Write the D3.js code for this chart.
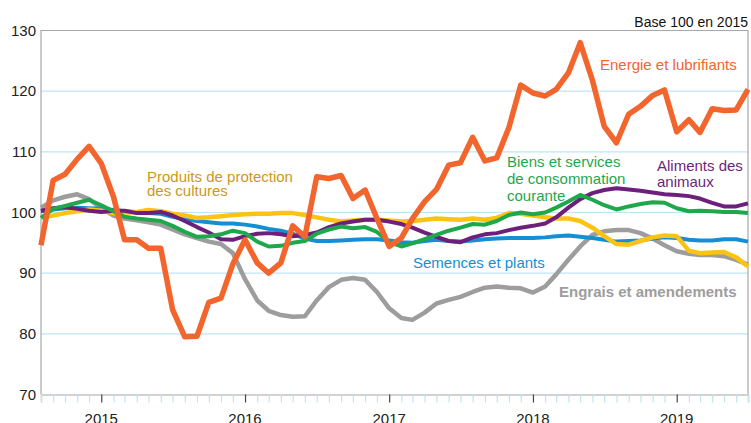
<!DOCTYPE html>
<html>
<head>
<meta charset="utf-8">
<script src="https://cdn.jsdelivr.net/npm/d3@7"></script>
<style>
  body { margin: 0; background: #fff; }
  svg { display: block; font-family: "Liberation Sans", Arial, sans-serif; }
</style>
</head>
<body>
<svg width="751" height="423"></svg>
<script>
// monthly indices, Aug 2014 -> Jul 2019 (60 months)
const firstMonth = new Date(2014, 7, 1);
const monthCount = 60;
const yearTicks = [2015, 2016, 2017, 2018, 2019];
const yTicks = [70, 80, 90, 100, 110, 120, 130];

const energie = [94.6, 105.3, 106.3, 108.8, 110.9, 108.1, 102.6, 95.5, 95.5, 94.1, 94.1, 84, 79.5, 79.6, 85.2, 85.9, 91.5, 95.5, 91.7, 90,
  91.7, 97.8, 96, 105.9, 105.6, 106.1, 102.3, 103.7, 99, 94.4, 95.8, 99, 101.8, 103.8, 107.8, 108.2, 112.4, 108.5, 109, 114,
  121, 119.7, 119.2, 120.3, 123, 128, 121.8, 114.2, 111.5, 116.2, 117.5, 119.3, 120.2, 113.3, 115.3, 113.2, 117.1, 116.8, 116.9, 120.3];
const engrais = [100.8, 102, 102.6, 103, 102.2, 100.7, 99.5, 99, 98.7, 98.4, 98, 97.2, 96.4, 95.8, 95.2, 94.8, 93.3, 89, 85.5, 83.8,
  83.1, 82.8, 82.9, 85.5, 87.7, 88.9, 89.2, 88.9, 86.9, 84.2, 82.6, 82.3, 83.5, 85, 85.6, 86.1, 86.9, 87.6, 87.8, 87.6,
  87.5, 86.8, 87.8, 89.8, 92.2, 94.4, 96.3, 96.9, 97.1, 97.1, 96.6, 95.7, 94.6, 93.6, 93.2, 93, 93, 92.8, 92.2, 91.4];
const semences = [100.2, 100.5, 100.7, 100.8, 100.7, 100.6, 100.4, 100.2, 100.1, 99.9, 99.8, 99.3, 98.9, 98.6, 98.4, 98.2, 98.2, 98, 97.7, 97.3,
  97, 96.5, 95.7, 95.3, 95.3, 95.4, 95.5, 95.6, 95.6, 95.4, 95.1, 95, 95.3, 95.5, 95.3, 95.2, 95.4, 95.6, 95.7, 95.8,
  95.8, 95.8, 95.9, 96.1, 96.2, 96, 95.8, 95.5, 95.2, 95.3, 95.4, 95.7, 95.9, 95.8, 95.5, 95.4, 95.4, 95.6, 95.6, 95.2];
const protection = [99.2, 99.5, 99.9, 100.2, 100.5, 100.3, 99.9, 100, 100.1, 100.4, 100.2, 99.8, 99.5, 99.1, 99.2, 99.4, 99.6, 99.7, 99.8, 99.8,
  99.9, 99.9, 99.6, 99.2, 98.8, 98.5, 98.7, 98.8, 98.8, 98.7, 98.5, 98.6, 98.8, 99, 98.9, 98.8, 99, 98.8, 99.1, 99.9,
  99.8, 99.5, 99.2, 99, 99, 98.6, 97.5, 96.1, 94.8, 94.7, 95.3, 95.9, 96.2, 96.1, 93.7, 93.3, 93.4, 93.5, 92.6, 91.1];
const aliments = [100.3, 100.7, 100.9, 100.6, 100.3, 100.1, 100.3, 100.3, 99.9, 99.9, 100.1, 99.5, 98.6, 97.6, 96.7, 95.6, 95.5, 96.1, 96.5, 96.6,
  96.4, 96.1, 96.3, 96.7, 97.6, 98.2, 98.5, 98.8, 98.8, 98.5, 98.1, 97.5, 96.7, 96, 95.3, 95.1, 95.9, 96.4, 96.6, 97.1,
  97.5, 97.8, 98.2, 99.2, 100.8, 102.2, 103.2, 103.7, 104, 103.8, 103.6, 103.3, 103, 102.9, 102.7, 102.3, 101.6, 101, 101, 101.5];
const biens = [99.1, 100.6, 101.1, 101.6, 102.1, 101.2, 100.2, 99.3, 99, 98.8, 98.6, 97.8, 96.8, 96, 96.1, 96.4, 97, 96.6, 95.2, 94.4,
  94.5, 95, 95.3, 96.5, 97.2, 97.7, 97.4, 97.6, 96.8, 95.1, 94.4, 94.9, 95.6, 96.3, 97, 97.5, 98.1, 98, 98.6, 99.6,
  100, 99.7, 100, 100.8, 101.8, 102.9, 102.1, 101.2, 100.5, 101, 101.4, 101.7, 101.6, 100.7, 100.2, 100.3, 100.2, 100.1, 100.1, 99.9];

const series = [
  { name: 'engrais', values: engrais, color: '#9d9d9d', width: 4.5 },
  { name: 'semences', values: semences, color: '#168fd2', width: 4 },
  { name: 'protection', values: protection, color: '#fdc312', width: 4.5 },
  { name: 'aliments', values: aliments, color: '#6d1f7c', width: 4 },
  { name: 'biens', values: biens, color: '#1fa74c', width: 4 },
  { name: 'energie', values: energie, color: '#f2652d', width: 5.5 }
];

const labels = [
  { lines: ['Energie et lubrifiants'], x: 600, y: 70, color: '#f2652d', bold: false, dy: 16 },
  { lines: ['Produits de protection', 'des cultures'], x: 147, y: 182, color: '#cc981c', bold: false, dy: 14 },
  { lines: ['Biens et services', 'de consommation', 'courante'], x: 507, y: 167, color: '#1fa74c', bold: false, dy: 17 },
  { lines: ['Aliments des', 'animaux'], x: 657, y: 171, color: '#6d1f7c', bold: false, dy: 16 },
  { lines: ['Semences et plants'], x: 413, y: 268, color: '#168fd2', bold: false, dy: 16 },
  { lines: ['Engrais et amendements'], x: 559, y: 297, color: '#9d9d9d', bold: true, dy: 16 }
];

const config = { left: 41, right: 748, top: 30.5, bottom: 394.5 };

const months = d3.range(monthCount).map(i => d3.timeMonth.offset(firstMonth, i));

const svg = d3.select('svg');

const x = d3.scaleTime()
  .domain([months[0], months[monthCount - 1]])
  .range([config.left, config.right]);
const y = d3.scaleLinear()
  .domain([70, 130])
  .range([config.bottom, config.top]);

// gridlines
svg.append('g')
  .selectAll('line')
  .data(yTicks.filter(t => t > 70 && t < 130))
  .enter().append('line')
  .attr('x1', config.left).attr('x2', config.right)
  .attr('y1', d => y(d)).attr('y2', d => y(d))
  .attr('stroke', '#bfe4f4').attr('stroke-width', 1.2);

// frame
svg.append('path')
  .attr('d', `M${config.left},${config.bottom}V${config.top}H${config.right}V${config.bottom}`)
  .attr('fill', 'none').attr('stroke', '#a8a8a8').attr('stroke-width', 1.2);

// month ticks
const xAxis = svg.append('g')
  .attr('transform', `translate(0,${config.bottom})`)
  .call(d3.axisBottom(x).ticks(d3.timeMonth.every(1)).tickSize(8).tickFormat(''));
xAxis.select('.domain').attr('stroke', '#c4c4c4').attr('stroke-width', 1.5);
xAxis.selectAll('.tick line')
  .attr('stroke', d => d.getMonth() === 0 ? '#444' : '#bfe4f4')
  .attr('stroke-width', 1.2);

// year labels (bottom edge clipped, as in the original)
svg.append('g')
  .selectAll('text')
  .data(yearTicks)
  .enter().append('text')
  .attr('x', d => x(new Date(d, 0, 1)))
  .attr('y', 424)
  .attr('text-anchor', 'middle')
  .attr('font-size', 15)
  .attr('fill', '#222')
  .text(d => d);

// y labels
svg.append('g')
  .selectAll('text')
  .data(yTicks)
  .enter().append('text')
  .attr('x', 36)
  .attr('y', d => y(d) + 5)
  .attr('text-anchor', 'end')
  .attr('font-size', 15)
  .attr('fill', '#222')
  .text(d => d);

svg.append('text')
  .attr('x', 748).attr('y', 27)
  .attr('text-anchor', 'end')
  .attr('font-size', 14)
  .attr('fill', '#111')
  .text('Base 100 en 2015');

const line = d3.line()
  .x((d, i) => x(months[i]))
  .y(d => y(d));

svg.append('g')
  .selectAll('path')
  .data(series)
  .enter().append('path')
  .attr('d', d => line(d.values))
  .attr('fill', 'none')
  .attr('stroke', d => d.color)
  .attr('stroke-width', d => d.width)
  .attr('stroke-linejoin', 'round');

labels.forEach(function (lab) {
  const t = svg.append('text')
    .attr('x', lab.x).attr('y', lab.y)
    .attr('font-size', 15)
    .attr('font-weight', lab.bold ? 'bold' : 'normal')
    .attr('fill', lab.color);
  lab.lines.forEach(function (s, i) {
    t.append('tspan').attr('x', lab.x).attr('dy', i === 0 ? 0 : lab.dy).text(s);
  });
});
</script>
</body>
</html>
